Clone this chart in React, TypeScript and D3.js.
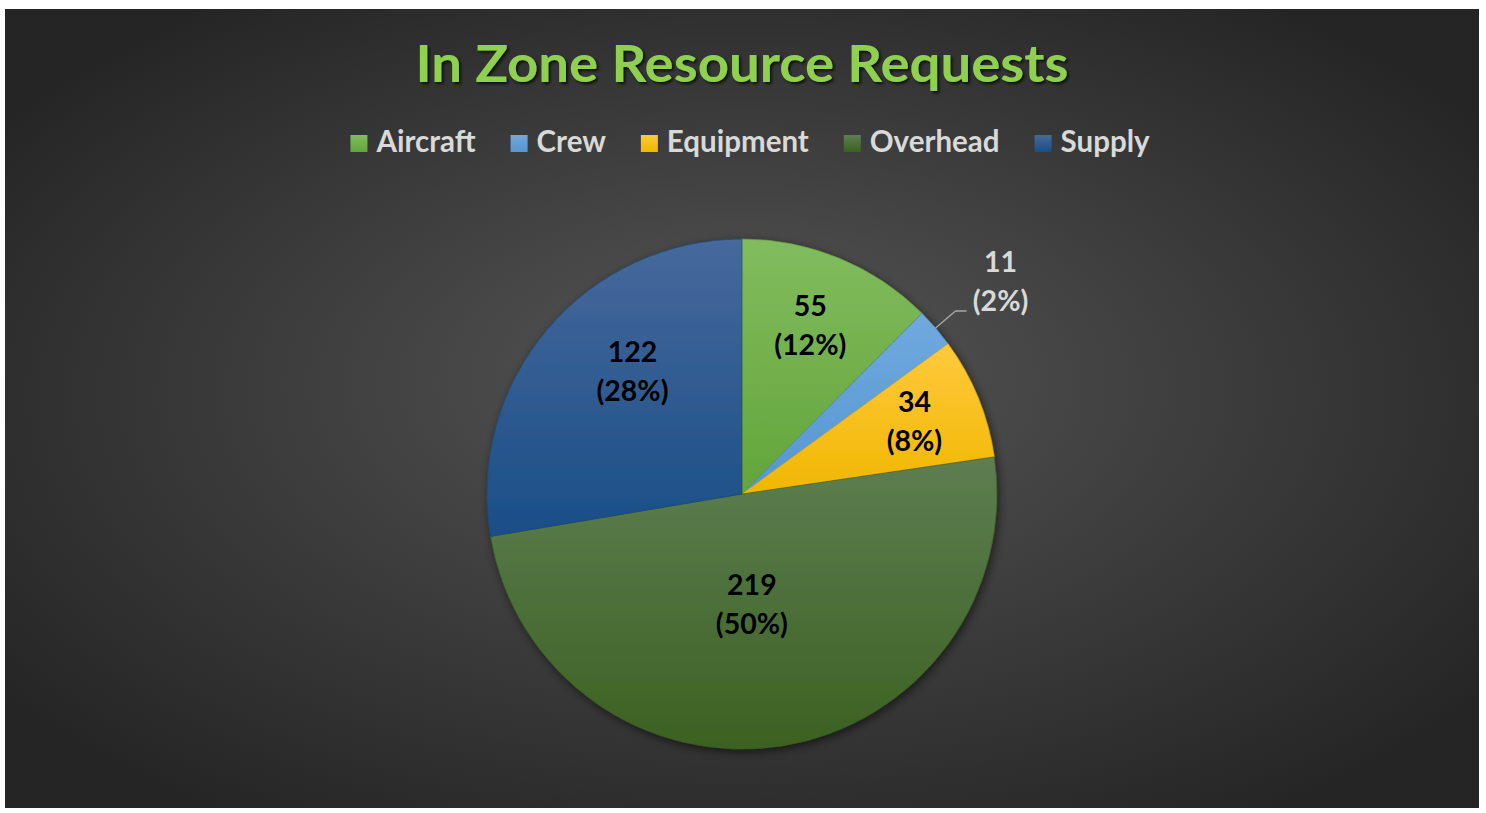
import React, { useEffect, useRef } from "react";
import * as d3 from "d3";

const categories = ["Aircraft", "Crew", "Equipment", "Overhead", "Supply"];
const values = [55, 11, 34, 219, 122];
const titleText = "In Zone Resource Requests";

const baseColors = ["#70AD47", "#5B9BD5", "#FFC000", "#426B28", "#1D5189"];
const topColors = ["#82BC5E", "#70A9DE", "#FFC93D", "#5E7E52", "#46699C"];
const bottomColors = ["#62A53A", "#5596D2", "#F0B700", "#3B6121", "#1A4E87"];
// label nudges relative to arc centroid at 0.65R (layout only)
const labelNudge: [number, number][] = [[5, -16], [0, 0], [19, -10], [-16, -54], [17, -16]];

const W = 1486;
const H = 813;
const FONT = "Lato, 'Open Sans', sans-serif";

export default function App() {
  const ref = useRef<SVGSVGElement | null>(null);

  useEffect(() => {
    const svg = d3.select(ref.current);
    svg.selectAll("*").remove();

    const defs = svg.append("defs");
    const bg = defs.append("radialGradient").attr("id", "bg")
      .attr("cx", "50%").attr("cy", "50%").attr("r", "62%")
      .attr("fx", "50%").attr("fy", "45%");
    bg.append("stop").attr("offset", "0%").attr("stop-color", "#565656");
    bg.append("stop").attr("offset", "100%").attr("stop-color", "#252525");

    categories.forEach((c, i) => {
      const g = defs.append("linearGradient").attr("id", `g${i}`)
        .attr("x1", 0).attr("y1", 0).attr("x2", 0).attr("y2", 1);
      g.append("stop").attr("offset", "0%").attr("stop-color", topColors[i]);
      g.append("stop").attr("offset", "100%").attr("stop-color", bottomColors[i]);
    });

    const sh = defs.append("filter").attr("id", "pieShadow")
      .attr("x", "-20%").attr("y", "-20%").attr("width", "140%").attr("height", "140%");
    sh.append("feDropShadow").attr("dx", 2).attr("dy", 3).attr("stdDeviation", 5)
      .attr("flood-color", "#000").attr("flood-opacity", 0.55);

    const tsh = defs.append("filter").attr("id", "titleShadow")
      .attr("x", "-10%").attr("y", "-30%").attr("width", "120%").attr("height", "160%");
    tsh.append("feDropShadow").attr("dx", 2).attr("dy", 2).attr("stdDeviation", 1.5)
      .attr("flood-color", "#000").attr("flood-opacity", 0.7);

    svg.append("rect").attr("width", W).attr("height", H).attr("fill", "#ffffff");
    const area = { x: 5, y: 9, w: 1474, h: 799 };
    svg.append("rect").attr("x", area.x).attr("y", area.y)
      .attr("width", area.w).attr("height", area.h).attr("fill", "url(#bg)");

    // Title
    svg.append("text")
      .attr("x", 742).attr("y", 82)
      .attr("text-anchor", "middle")
      .attr("font-family", FONT).attr("font-weight", 700)
      .attr("font-size", 51)
      .attr("fill", "#8FD14F")
      .attr("textLength", 653).attr("lengthAdjust", "spacingAndGlyphs")
      .attr("filter", "url(#titleShadow)")
      .text(titleText);

    // Legend
    const legend = svg.append("g");
    const items = legend.selectAll("g").data(categories).join("g");
    items.append("rect").attr("width", 17).attr("height", 17).attr("y", -17)
      .attr("fill", (_, i) => `url(#g${i})`);
    const texts = items.append("text").attr("x", 26).attr("y", 0)
      .attr("font-family", FONT).attr("font-weight", 700).attr("font-size", 29.5)
      .attr("fill", "#D9D9D9").text(d => d);
    const widths: number[] = [];
    texts.each(function () { widths.push((this as SVGTextElement).getComputedTextLength()); });
    const gap = 35;
    const itemW = widths.map(w => 26 + w);
    const total = d3.sum(itemW) + gap * (categories.length - 1);
    let x0 = 750 - total / 2;
    items.attr("transform", (_, i) => {
      const x = x0;
      x0 += itemW[i] + gap;
      return `translate(${x},${152})`;
    });

    // Pie
    const cx = 742, cy = 494, R = 255;
    const pie = d3.pie<number>().sort(null).value(d => d);
    const arcs = pie(values);
    const arc = d3.arc<d3.PieArcDatum<number>>().innerRadius(0).outerRadius(R);
    const g = svg.append("g").attr("transform", `translate(${cx},${cy})`);
    const slices = g.append("g").attr("filter", "url(#pieShadow)");
    slices.selectAll("path").data(arcs).join("path")
      .attr("d", arc)
      .attr("fill", (_, i) => `url(#g${i})`)
      .attr("stroke", (_, i) => d3.color(baseColors[i])!.darker(0.3).toString())
      .attr("stroke-width", 0.6);

    const totalV = d3.sum(values);
    const labelArc = d3.arc<d3.PieArcDatum<number>>().innerRadius(R * 0.65).outerRadius(R * 0.65);
    arcs.forEach((a, i) => {
      const pct = Math.round((a.value / totalV) * 100);
      const lines = [String(a.value), `(${pct}%)`];
      if (i === 1) {
        const mid = (a.startAngle + a.endAngle) / 2;
        const px = R * Math.sin(mid), py = -R * Math.cos(mid);
        const ex = px + 20, ey = py - 17;
        g.append("path")
          .attr("d", `M${px},${py}L${ex},${ey}L${ex + 11},${ey}`)
          .attr("fill", "none").attr("stroke", "#A6A6A6").attr("stroke-width", 1.3);
        const t = g.append("text").attr("x", ex + 45).attr("y", ey - 39)
          .attr("text-anchor", "middle")
          .attr("font-family", FONT).attr("font-weight", 700).attr("font-size", 28.5)
          .attr("fill", "#D9D9D9");
        lines.forEach((l, k) => t.append("tspan").attr("x", ex + 45).attr("dy", k === 0 ? 0 : 39).text(l));
        return;
      }
      const [lx, ly] = labelArc.centroid(a);
      const x = lx + labelNudge[i][0], y = ly + labelNudge[i][1];
      const t = g.append("text").attr("text-anchor", "middle")
        .attr("font-family", FONT).attr("font-weight", 700).attr("font-size", 28.5)
        .attr("fill", "#000");
      lines.forEach((l, k) => t.append("tspan").attr("x", x).attr("y", y - 9 + k * 39).text(l));
    });
  }, []);

  return (
    <svg ref={ref} width={W} height={H}
      style={{ position: "absolute", left: 0, top: 0, display: "block" }} />
  );
}
